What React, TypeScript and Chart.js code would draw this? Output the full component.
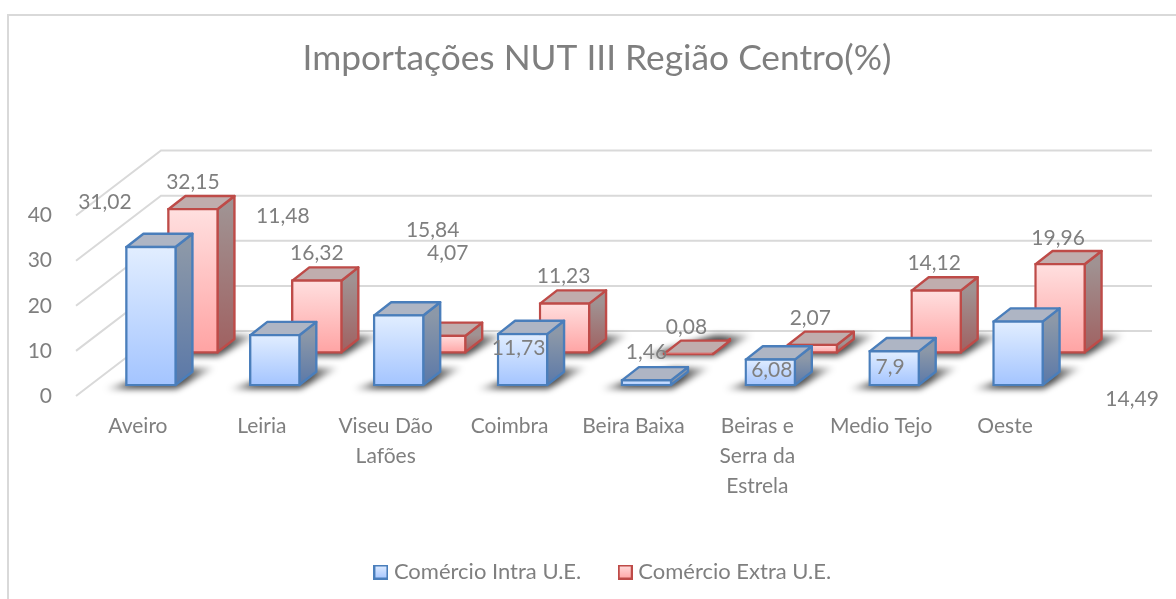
import React, { useEffect, useRef } from "react";
import { Chart, registerables } from "chart.js";

Chart.register(...registerables);

const categories = [
  "Aveiro",
  "Leiria",
  ["Viseu Dão", "Lafões"],
  "Coimbra",
  "Beira Baixa",
  ["Beiras e", "Serra da", "Estrela"],
  "Medio Tejo",
  "Oeste",
];
const intraValues = [31.02, 11.48, 15.84, 11.73, 1.46, 6.08, 7.9, 14.49];
const extraValues = [32.15, 16.32, 4.07, 11.23, 0.08, 2.07, 14.12, 19.96];
const seriesNames = ["Comércio Intra U.E.", "Comércio Extra U.E."];
const chartTitle = "Importações NUT III Região Centro(%)";

const FONT = "Lato, Carlito, Calibri, sans-serif";
const TEXT = "#7f7f7f";
const GRID = "#d9d9d9";

const palettes = [
  { stroke: "#4a7ebb", faceTop: "#e2eeff", faceBottom: "#a3c4ff", sideTop: "#8c98a8", sideBottom: "#5a78a8", top: "#aeb5c4" },
  { stroke: "#be4b48", faceTop: "#ffe0e0", faceBottom: "#ffa3a3", sideTop: "#a09292", sideBottom: "#a06060", top: "#c0adad" },
];
// floor position of each series row, relative to the front edge of the floor
const rowShift = [
  { x: 13, y: -10 },
  { x: 55, y: -42.7 },
];
const barDepth = { x: 17, y: -13.3 };
const wallDepth = { x: 85, y: -65 };
const legendNudge = 8;
const strokeWidth = 2.4;
// the reference's hand-moved value labels, relative to the top centre of each bar
const intraLabelShift = [[-46, -44], [8, -118], [34, -84], [-4, 15], [0, -27], [1.5, 12], [-4, 17], [114, 79]];
const extraLabelShift = [[0, -26], [0, -26], [7, -82], [-1, -26], [-2, -26], [-2, -26], [-2, -26], [-2, -25]];
const labelShifts = [intraLabelShift, extraLabelShift];

function faceGradient(context: any, i: number) {
  const { chart, dataIndex } = context;
  const y = chart.scales.y;
  if (!y || dataIndex === undefined) return palettes[i].faceBottom;
  const value = chart.data.datasets[i].data[dataIndex];
  const g = chart.ctx.createLinearGradient(0, y.getPixelForValue(value), 0, y.getPixelForValue(0));
  g.addColorStop(0, palettes[i].faceTop);
  g.addColorStop(1, palettes[i].faceBottom);
  return g;
}

function swatch(i: number) {
  const c = document.createElement("canvas");
  c.width = 15;
  c.height = 15;
  const ctx = c.getContext("2d")!;
  const g = ctx.createLinearGradient(0, 0, 0, 15);
  g.addColorStop(0, palettes[i].faceTop);
  g.addColorStop(1, palettes[i].faceBottom);
  ctx.fillStyle = g;
  ctx.fillRect(1, 1, 13, 13);
  ctx.strokeStyle = palettes[i].stroke;
  ctx.lineWidth = 2;
  ctx.strokeRect(1, 1, 13, 13);
  return c;
}

const frame3d = {
  id: "frame3d",
  afterLayout(chart: any) {
    chart.legend.left += legendNudge;
    chart.legend.right += legendNudge;
  },
  beforeDraw(chart: any) {
    const { ctx, width, height } = chart;
    ctx.save();
    ctx.strokeStyle = GRID;
    ctx.lineWidth = 2;
    ctx.beginPath();
    ctx.moveTo(8, height);
    ctx.lineTo(8, 15);
    ctx.lineTo(width, 15);
    ctx.stroke();
    ctx.restore();
  },
  beforeDatasetsDraw(chart: any) {
    const { ctx, scales } = chart;
    const { x, y } = scales;
    ctx.save();
    ctx.strokeStyle = GRID;
    ctx.lineWidth = 2;
    for (const tick of y.ticks) {
      const py = y.getPixelForValue(tick.value);
      ctx.beginPath();
      ctx.moveTo(x.left, py);
      ctx.lineTo(x.left + wallDepth.x, py + wallDepth.y);
      ctx.lineTo(x.right + wallDepth.x, py + wallDepth.y);
      ctx.stroke();
    }
    ctx.restore();
  },
  beforeDatasetDraw(chart: any, args: any) {
    const { ctx } = chart;
    const i = args.index;
    const pal = palettes[i];
    ctx.save();
    ctx.translate(rowShift[i].x, rowShift[i].y);
    const bars = args.meta.data;
    for (const bar of bars) {
      const { x, y, base, width } = bar.getProps(["x", "y", "base", "width"], true);
      const l = x - width / 2;
      const r = x + width / 2;
      // floor shadow
      ctx.save();
      ctx.filter = "blur(3px)";
      const sg = ctx.createLinearGradient(l - 24, 0, r + 42, 0);
      sg.addColorStop(0, "rgba(0,0,0,0.05)");
      sg.addColorStop(0.22, "rgba(0,0,0,0.7)");
      sg.addColorStop(0.72, "rgba(0,0,0,0.7)");
      sg.addColorStop(1, "rgba(0,0,0,0.03)");
      ctx.fillStyle = sg;
      ctx.beginPath();
      ctx.moveTo(l - 20, base + 3);
      ctx.lineTo(r, base + 3);
      ctx.lineTo(r + 38, base - 18);
      ctx.lineTo(r, base - 18);
      ctx.closePath();
      ctx.fill();
      ctx.restore();
      // right side
      const side = ctx.createLinearGradient(0, y, 0, base);
      side.addColorStop(0, pal.sideTop);
      side.addColorStop(1, pal.sideBottom);
      ctx.fillStyle = side;
      ctx.strokeStyle = pal.stroke;
      ctx.lineWidth = strokeWidth;
      ctx.lineJoin = "round";
      ctx.beginPath();
      ctx.moveTo(r - 1, y + 1);
      ctx.lineTo(r - 1 + barDepth.x, y + 1 + barDepth.y);
      ctx.lineTo(r - 1 + barDepth.x, base - 1 + barDepth.y);
      ctx.lineTo(r - 1, base - 1);
      ctx.closePath();
      ctx.fill();
      ctx.stroke();
      // top
      ctx.fillStyle = pal.top;
      ctx.beginPath();
      ctx.moveTo(l + 1, y + 1);
      ctx.lineTo(l + 1 + barDepth.x, y + 1 + barDepth.y);
      ctx.lineTo(r - 1 + barDepth.x, y + 1 + barDepth.y);
      ctx.lineTo(r - 1, y + 1);
      ctx.closePath();
      ctx.fill();
      ctx.stroke();
    }
  },
  afterDatasetDraw(chart: any) {
    chart.ctx.restore();
  },
  afterDatasetsDraw(chart: any) {
    const { ctx } = chart;
    ctx.save();
    ctx.font = `21px ${FONT}`;
    ctx.fillStyle = TEXT;
    ctx.textAlign = "center";
    ctx.textBaseline = "middle";
    chart.data.datasets.forEach((ds: any, i: number) => {
      const meta = chart.getDatasetMeta(i);
      meta.data.forEach((bar: any, k: number) => {
        const { x, y } = bar.getProps(["x", "y"], true);
        const text = String(ds.data[k]).replace(".", ",");
        ctx.fillText(
          text,
          x + rowShift[i].x + labelShifts[i][k][0],
          y + rowShift[i].y + labelShifts[i][k][1]
        );
      });
    });
    ctx.restore();
  },
};

export default function App() {
  const ref = useRef<HTMLCanvasElement>(null);
  useEffect(() => {
    const chart = new Chart(ref.current!, {
      type: "bar",
      plugins: [frame3d],
      data: {
        labels: categories as any,
        datasets: [intraValues, extraValues].map((values, i) => ({
          label: seriesNames[i],
          data: values,
          grouped: false,
          clip: false,
          barThickness: 51,
          borderWidth: strokeWidth,
          borderSkipped: false,
          borderColor: palettes[i].stroke,
          backgroundColor: (c: any) => faceGradient(c, i),
        })) as any,
      },
      options: {
        responsive: false,
        animation: false,
        devicePixelRatio: 1,
        events: [],
        layout: { padding: { left: 18, right: 0, top: 0, bottom: 6 } },
        plugins: {
          tooltip: { enabled: false },
          title: {
            display: true,
            text: chartTitle,
            color: TEXT,
            font: { family: FONT, size: 35.3, weight: "normal", lineHeight: 1.2 },
            padding: { top: 37.8, bottom: 135.4 },
          },
          legend: {
            position: "bottom",
            labels: {
              color: TEXT,
              font: { family: FONT, size: 22, lineHeight: 1.2 },
              usePointStyle: true,
              pointStyleWidth: 4,
              padding: 42,
              generateLabels: () =>
                seriesNames.map((text, i) => ({
                  text,
                  datasetIndex: i,
                  hidden: false,
                  fontColor: TEXT,
                  pointStyle: swatch(i),
                  lineWidth: 0,
                  strokeStyle: "transparent",
                  fillStyle: "transparent",
                })) as any,
            },
          },
        },
        scales: {
          x: {
            grid: { display: false },
            border: { display: false },
            ticks: {
              color: TEXT,
              font: { family: FONT, size: 21, lineHeight: 1.43 },
              padding: 7,
              maxRotation: 0,
              minRotation: 0,
              autoSkip: false,
            },
            afterFit(s: any) {
              s.height = 123;
            },
          },
          y: {
            min: 0,
            max: 40,
            grid: { display: false },
            border: { display: false },
            ticks: {
              stepSize: 10,
              color: TEXT,
              font: { family: FONT, size: 21 },
              padding: 16,
            },
            afterFit(s: any) {
              s.width = 58;
            },
          },
          right: {
            type: "linear",
            position: "right",
            min: 0,
            max: 40,
            grid: { display: false },
            border: { display: false },
            ticks: { display: false },
            afterFit(s: any) {
              s.width = 109;
            },
          },
        },
      } as any,
    });
    return () => chart.destroy();
  }, []);
  return (
    <canvas
      ref={ref}
      width={1176}
      height={599}
      style={{ position: "fixed", left: 0, top: 0, display: "block", background: "#fff" }}
    />
  );
}
